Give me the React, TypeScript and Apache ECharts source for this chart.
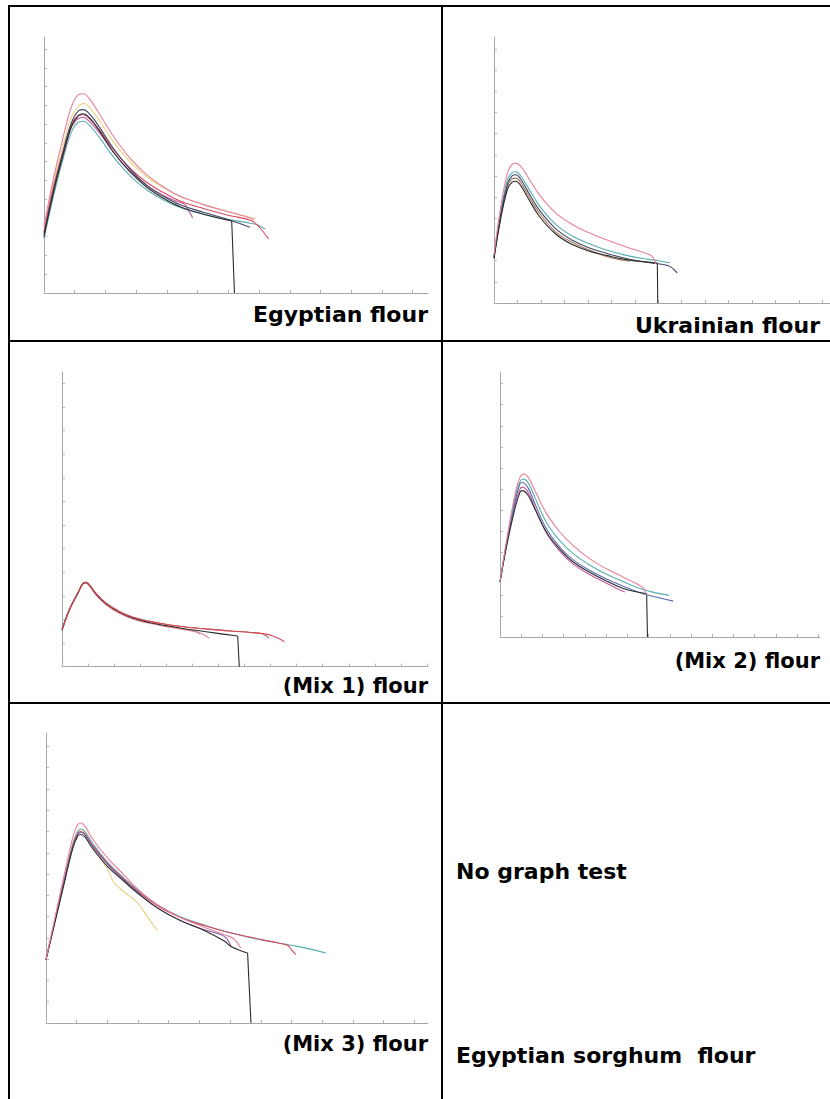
import React, { useEffect, useRef } from "react";
import * as echarts from "echarts";

// ---------- Tick values (in tick units) ----------
const egyptXTicks = [0, 1, 2, 3, 4, 5, 6, 7, 8, 9, 10, 11, 12];
const egyptYTicks = [0, 1, 2, 3, 4, 5, 6, 7, 8, 9, 10, 11, 12, 13];
const ukrXTicks = [0, 1, 2, 3, 4, 5, 6, 7, 8, 9, 10, 11, 12, 13, 14];
const ukrYTicks = [0, 1, 2, 3, 4, 5, 6, 7, 8, 9, 10, 11, 12];
const mix1XTicks = [0, 1, 2, 3, 4, 5, 6, 7, 8, 9, 10, 11, 12, 13, 14];
const mix1YTicks = [0, 1, 2, 3, 4, 5, 6, 7, 8, 9, 10, 11, 12];
const mix2XTicks = [0, 1, 2, 3, 4, 5, 6, 7, 8, 9, 10, 11, 12, 13, 14, 15];
const mix2YTicks = [0, 1, 2, 3, 4, 5, 6, 7, 8, 9, 10, 11, 12];
const mix3XTicks = [0, 1, 2, 3, 4, 5, 6, 7, 8, 9, 10, 11, 12];
const mix3YTicks = [0, 1, 2, 3, 4, 5, 6, 7, 8, 9, 10, 11, 12, 13];

// ---------- Panel labels ----------
const panelTitles = ["Egyptian flour", "Ukrainian flour", "(Mix 1) flour", "(Mix 2) flour", "(Mix 3) flour"];
const emptyCellTexts = ["No graph test", "Egyptian sorghum  flour"];

// ---------- Egyptian flour curves [x, y] ----------
const egyptPink = [[0, 3.55], [0.3, 6.04], [0.63, 8.35], [0.9, 9.95], [1.12, 10.57], [1.28, 10.62], [1.5, 10.3], [1.82, 9.5], [2.26, 8.35], [2.8, 7.19], [3.34, 6.31], [3.89, 5.65], [4.43, 5.15], [5.19, 4.71], [6.06, 4.3], [6.71, 4.0], [6.85, 3.9]];
const egyptYellow = [[0, 3.4], [0.3, 5.8], [0.63, 7.9], [0.9, 9.4], [1.15, 10.0], [1.3, 10.1], [1.5, 9.85], [1.82, 9.15], [2.26, 8.05], [2.8, 7.0], [3.34, 6.2], [3.89, 5.6], [4.43, 5.15], [5.19, 4.72], [6.06, 4.32], [6.6, 4.08], [6.9, 3.98]];
const egyptNavy = [[0, 3.1], [0.3, 5.4], [0.63, 7.6], [0.9, 9.1], [1.12, 9.7], [1.28, 9.77], [1.5, 9.5], [1.82, 8.8], [2.26, 7.7], [2.8, 6.6], [3.34, 5.75], [3.89, 5.15], [4.43, 4.7], [5.19, 4.3], [6.06, 3.88], [6.71, 3.5]];
const egyptRed = [[0, 3.25], [0.3, 5.6], [0.63, 7.6], [0.9, 9.0], [1.12, 9.45], [1.28, 9.5], [1.5, 9.25], [1.82, 8.65], [2.26, 7.65], [2.8, 6.65], [3.34, 5.9], [3.89, 5.35], [4.43, 4.9], [5.19, 4.5], [6.06, 4.12], [6.76, 3.85], [7.04, 3.45], [7.31, 2.88]];
const egyptMagenta = [[0, 3.2], [0.3, 5.5], [0.63, 7.4], [0.9, 8.85], [1.12, 9.3], [1.28, 9.35], [1.5, 9.1], [1.82, 8.5], [2.26, 7.5], [2.8, 6.5], [3.34, 5.75], [3.89, 5.2], [4.3, 4.9], [4.59, 4.71], [4.72, 4.35], [4.84, 4.0]];
const egyptBlack = [[0, 3.0], [0.3, 5.3], [0.63, 7.4], [0.9, 8.9], [1.12, 9.45], [1.28, 9.55], [1.5, 9.3], [1.82, 8.6], [2.26, 7.5], [2.8, 6.45], [3.34, 5.65], [3.89, 5.05], [4.43, 4.6], [5.19, 4.2], [6.11, 3.84], [6.2, 0]];
const egyptTeal = [[0, 2.9], [0.3, 5.1], [0.63, 7.2], [0.9, 8.6], [1.12, 9.1], [1.28, 9.15], [1.5, 8.9], [1.82, 8.25], [2.26, 7.25], [2.8, 6.25], [3.34, 5.5], [3.89, 4.95], [4.43, 4.55], [5.19, 4.2], [6.06, 3.9], [6.71, 3.72], [6.93, 3.64], [7.2, 3.41]];

// ---------- Ukrainian flour curves ----------
const ukrPink = [[0, 2.28], [0.29, 4.57], [0.57, 6.14], [0.76, 6.54], [0.93, 6.61], [1.14, 6.46], [1.43, 5.98], [1.93, 5.12], [2.64, 4.25], [3.36, 3.7], [4.07, 3.31], [4.79, 2.99], [5.64, 2.65], [6.64, 2.28], [6.79, 2.13], [6.9, 1.85]];
const ukrTeal = [[0, 2.2], [0.29, 4.3], [0.57, 5.8], [0.76, 6.15], [0.93, 6.2], [1.14, 6.0], [1.43, 5.5], [1.93, 4.6], [2.64, 3.7], [3.36, 3.15], [4.07, 2.8], [4.79, 2.5], [5.64, 2.25], [6.64, 2.05], [7.0, 2.0], [7.5, 1.9]];
const ukrNavy = [[0, 2.15], [0.29, 4.2], [0.57, 5.6], [0.76, 6.0], [0.93, 6.06], [1.14, 5.85], [1.43, 5.3], [1.93, 4.4], [2.64, 3.5], [3.36, 2.95], [4.07, 2.6], [4.79, 2.35], [5.64, 2.1], [6.64, 1.9], [7.2, 1.82], [7.5, 1.73], [7.81, 1.42]];
const ukrBlack = [[0, 2.1], [0.29, 4.0], [0.57, 5.35], [0.76, 5.7], [0.93, 5.75], [1.14, 5.55], [1.43, 5.0], [1.93, 4.1], [2.64, 3.25], [3.36, 2.75], [4.07, 2.45], [4.79, 2.25], [5.64, 2.05], [6.96, 1.89], [6.98, 0]];
const ukrBrown = [[0, 2.12], [0.29, 4.1], [0.57, 5.5], [0.76, 5.85], [0.93, 5.9], [1.14, 5.7], [1.43, 5.15], [1.93, 4.25], [2.64, 3.35], [3.36, 2.85], [4.07, 2.5], [4.79, 2.2], [5.5, 2.02], [5.79, 1.97]];

// ---------- (Mix 1) flour curves ----------
const mix1Red = [[0, 1.55], [0.28, 2.4], [0.6, 3.1], [0.79, 3.5], [0.9, 3.57], [1.02, 3.5], [1.3, 3.1], [1.69, 2.68], [2.2, 2.33], [2.71, 2.09], [3.35, 1.91], [3.99, 1.79], [4.63, 1.69], [5.27, 1.62], [5.91, 1.56], [6.55, 1.5], [7.19, 1.45], [7.83, 1.38], [8.08, 1.3], [8.3, 1.2], [8.53, 1.06]];
const mix1Brown = [[0, 1.55], [0.28, 2.42], [0.6, 3.12], [0.79, 3.52], [0.9, 3.58], [1.02, 3.52], [1.3, 3.12], [1.69, 2.7], [2.2, 2.35], [2.71, 2.1], [3.35, 1.93], [3.99, 1.8], [4.63, 1.7], [5.27, 1.63], [5.91, 1.57], [6.55, 1.51], [7.19, 1.46], [7.7, 1.39], [7.95, 1.2]];
const mix1Black = [[0, 1.55], [0.28, 2.4], [0.6, 3.1], [0.79, 3.5], [0.9, 3.56], [1.02, 3.49], [1.3, 3.08], [1.69, 2.66], [2.2, 2.3], [2.71, 2.06], [3.35, 1.87], [3.99, 1.74], [4.63, 1.62], [5.27, 1.52], [5.91, 1.42], [6.74, 1.3], [6.8, 0]];
const mix1Pink = [[0, 1.55], [0.28, 2.38], [0.6, 3.08], [0.79, 3.48], [0.9, 3.55], [1.02, 3.47], [1.3, 3.05], [1.69, 2.62], [2.2, 2.26], [2.71, 2.02], [3.35, 1.84], [3.99, 1.7], [4.63, 1.58], [5.27, 1.44], [5.45, 1.35], [5.65, 1.2]];
const mix1Green = [[0, 1.55], [0.28, 2.4], [0.6, 3.1], [0.79, 3.5], [0.9, 3.57], [1.02, 3.5], [1.3, 3.09], [1.69, 2.67], [2.2, 2.3], [2.71, 2.05], [3.35, 1.86], [3.99, 1.72], [4.63, 1.6], [5.1, 1.5], [5.3, 1.38]];

// ---------- (Mix 2) flour curves ----------
const mix2Pink = [[0, 2.6], [0.31, 4.57], [0.71, 6.77], [0.94, 7.56], [1.13, 7.72], [1.33, 7.56], [1.65, 6.93], [2.2, 5.83], [2.83, 4.96], [3.45, 4.33], [4.24, 3.7], [5.02, 3.23], [5.81, 2.83], [6.59, 2.44], [6.78, 2.28], [6.91, 1.97]];
const mix2Teal = [[0, 2.6], [0.31, 4.5], [0.71, 6.6], [0.94, 7.35], [1.1, 7.48], [1.33, 7.3], [1.65, 6.6], [2.2, 5.4], [2.83, 4.55], [3.45, 3.95], [4.24, 3.4], [5.02, 2.97], [5.81, 2.62], [6.59, 2.3], [7.3, 2.1], [7.97, 1.97]];
const mix2Blue = [[0, 2.6], [0.31, 4.4], [0.71, 6.4], [0.94, 7.25], [1.05, 7.32], [1.33, 7.05], [1.65, 6.3], [2.2, 5.1], [2.83, 4.25], [3.45, 3.65], [4.24, 3.15], [5.02, 2.75], [5.81, 2.4], [6.59, 2.1], [7.4, 1.88], [8.16, 1.7]];
const mix2Black = [[0, 2.6], [0.31, 4.3], [0.71, 6.1], [0.94, 6.85], [1.05, 6.93], [1.33, 6.7], [1.65, 6.05], [2.2, 4.95], [2.83, 4.15], [3.45, 3.55], [4.24, 3.05], [5.02, 2.65], [5.81, 2.3], [6.91, 2.05], [6.95, 0]];
const mix2Magenta = [[0, 2.6], [0.31, 4.35], [0.71, 6.3], [0.94, 7.0], [1.05, 7.1], [1.33, 6.85], [1.65, 6.1], [2.2, 4.9], [2.83, 4.05], [3.45, 3.45], [4.24, 2.95], [5.02, 2.55], [5.5, 2.3], [5.89, 2.13]];

// ---------- (Mix 3) flour curves ----------
const mix3Pink = [[0, 2.98], [0.27, 4.8], [0.6, 7.0], [0.87, 8.7], [1.03, 9.32], [1.14, 9.4], [1.27, 9.25], [1.52, 8.65], [2.01, 7.75], [2.55, 6.95], [2.99, 6.3], [3.64, 5.55], [4.4, 4.95], [5.16, 4.5], [5.81, 4.15], [6.13, 3.95], [6.35, 3.52]];
const mix3Teal = [[0, 2.98], [0.27, 4.7], [0.6, 6.8], [0.87, 8.4], [1.03, 9.0], [1.14, 9.12], [1.27, 9.0], [1.52, 8.45], [2.01, 7.55], [2.55, 6.8], [2.99, 6.25], [3.64, 5.55], [4.4, 4.98], [5.16, 4.6], [5.97, 4.25], [7.03, 3.9], [8.2, 3.6], [9.12, 3.29]];
const mix3Red = [[0, 2.98], [0.27, 4.7], [0.6, 6.75], [0.87, 8.3], [1.03, 8.9], [1.14, 9.0], [1.27, 8.88], [1.52, 8.35], [2.01, 7.5], [2.55, 6.75], [2.99, 6.2], [3.64, 5.5], [4.4, 4.95], [5.16, 4.58], [5.97, 4.25], [7.03, 3.92], [7.6, 3.75], [7.87, 3.65], [8.0, 3.45], [8.14, 3.21]];
const mix3Black = [[0, 2.98], [0.27, 4.6], [0.6, 6.6], [0.87, 8.2], [1.03, 8.78], [1.14, 8.86], [1.27, 8.75], [1.52, 8.2], [2.01, 7.35], [2.55, 6.65], [2.99, 6.1], [3.64, 5.4], [4.4, 4.8], [5.16, 4.35], [5.81, 3.85], [6.03, 3.6], [6.57, 3.29], [6.68, 0]];
const mix3Purple = [[0, 2.98], [0.27, 4.65], [0.6, 6.7], [0.87, 8.25], [1.03, 8.85], [1.14, 8.97], [1.27, 8.85], [1.52, 8.3], [2.01, 7.45], [2.55, 6.7], [2.99, 6.15], [3.64, 5.4], [4.4, 4.8], [5.16, 4.38], [5.81, 4.07], [6.03, 3.6]];
const mix3Yellow = [[0, 2.98], [0.27, 4.7], [0.6, 6.8], [0.87, 8.4], [1.03, 9.0], [1.14, 9.1], [1.27, 8.95], [1.52, 8.3], [2.01, 7.2], [2.23, 6.58], [2.6, 6.1], [2.99, 5.64], [3.3, 5.0], [3.64, 4.31]];

// ---------- Styles ----------
const COL = {
  pink: "#e7809b",
  yellow: "#e9d27e",
  navy: "#3f4868",
  red: "#d9485b",
  magenta: "#c45a9e",
  black: "#2c2c2c",
  teal: "#58aeb0",
  brown: "#a8785c",
  green: "#80ae7c",
  blue: "#5a6ab0",
  purple: "#7a5aa2",
};

const gridBoxes = [
  { left: 44, top: 37, width: 384, height: 256, xMax: 12.5, yMax: 13.64, xTicks: egyptXTicks, yTicks: egyptYTicks },
  { left: 494, top: 37, width: 336, height: 266, xMax: 14.32, yMax: 12.57, xTicks: ukrXTicks, yTicks: ukrYTicks },
  { left: 62, top: 372, width: 366, height: 294.7, xMax: 14.04, yMax: 12.48, xTicks: mix1XTicks, yTicks: mix1YTicks },
  { left: 500, top: 372, width: 320, height: 265, xMax: 15.08, yMax: 12.55, xTicks: mix2XTicks, yTicks: mix2YTicks },
  { left: 46, top: 733, width: 382, height: 290, xMax: 12.45, yMax: 13.63, xTicks: mix3XTicks, yTicks: mix3YTicks },
];

const curves: { panel: number; data: number[][]; color: string }[] = [
  { panel: 0, data: egyptYellow, color: COL.yellow },
  { panel: 0, data: egyptTeal, color: COL.teal },
  { panel: 0, data: egyptMagenta, color: COL.magenta },
  { panel: 0, data: egyptRed, color: COL.red },
  { panel: 0, data: egyptNavy, color: COL.navy },
  { panel: 0, data: egyptBlack, color: COL.black },
  { panel: 0, data: egyptPink, color: COL.pink },
  { panel: 1, data: ukrBrown, color: COL.brown },
  { panel: 1, data: ukrTeal, color: COL.teal },
  { panel: 1, data: ukrNavy, color: COL.navy },
  { panel: 1, data: ukrBlack, color: COL.black },
  { panel: 1, data: ukrPink, color: COL.pink },
  { panel: 2, data: mix1Green, color: COL.green },
  { panel: 2, data: mix1Pink, color: COL.pink },
  { panel: 2, data: mix1Brown, color: COL.brown },
  { panel: 2, data: mix1Black, color: COL.black },
  { panel: 2, data: mix1Red, color: COL.red },
  { panel: 3, data: mix2Magenta, color: COL.magenta },
  { panel: 3, data: mix2Teal, color: COL.teal },
  { panel: 3, data: mix2Blue, color: COL.blue },
  { panel: 3, data: mix2Black, color: COL.black },
  { panel: 3, data: mix2Pink, color: COL.pink },
  { panel: 4, data: mix3Yellow, color: COL.yellow },
  { panel: 4, data: mix3Teal, color: COL.teal },
  { panel: 4, data: mix3Red, color: COL.red },
  { panel: 4, data: mix3Purple, color: COL.purple },
  { panel: 4, data: mix3Black, color: COL.black },
  { panel: 4, data: mix3Pink, color: COL.pink },
];

const LABEL_FONT = 'bold 22px "DejaVu Sans"';
const MIX_FONT = 'bold 21px "DejaVu Sans"';

function buildOption() {
  const axisStyle = (max: number, ticks: number[], gridIndex: number) => ({
    type: "value",
    gridIndex,
    min: 0,
    max,
    axisLine: { show: true, onZero: false, lineStyle: { color: "#a6a6a6", width: 1 } },
    axisTick: { show: true, inside: true, length: 3, customValues: ticks, lineStyle: { color: "#b4b4b4", width: 1 } },
    axisLabel: { show: false },
    splitLine: { show: false },
  });

  const grid = gridBoxes.map((g) => ({ left: g.left, top: g.top, width: g.width, height: g.height, containLabel: false }));
  const xAxis = gridBoxes.map((g, i) => axisStyle(g.xMax, g.xTicks, i));
  const yAxis = gridBoxes.map((g, i) => axisStyle(g.yMax, g.yTicks, i));

  const series: any[] = [];
  curves.forEach((c) => {
    const last = c.data[c.data.length - 1];
    const hasDrop = last[1] === 0;
    const body = hasDrop ? c.data.slice(0, c.data.length - 1) : c.data;
    series.push({
      type: "line",
      xAxisIndex: c.panel,
      yAxisIndex: c.panel,
      data: body,
      smooth: 0.4,
      symbol: "none",
      lineStyle: { color: c.color, width: 1.1 },
      silent: true,
    });
    if (hasDrop) {
      series.push({
        type: "line",
        xAxisIndex: c.panel,
        yAxisIndex: c.panel,
        data: c.data.slice(c.data.length - 2),
        smooth: false,
        symbol: "none",
        lineStyle: { color: c.color, width: 1.1 },
        silent: true,
      });
    }
  });

  const line = (x1: number, y1: number, x2: number, y2: number) => ({
    type: "line",
    shape: { x1, y1, x2, y2 },
    style: { stroke: "#000", lineWidth: 2 },
    silent: true,
  });

  const text = (t: string, x: number, y: number, align: string, font: string) => ({
    type: "text",
    x,
    y,
    silent: true,
    style: { text: t, font, fill: "#000", align, textAlign: align, verticalAlign: "middle", textVerticalAlign: "middle" },
  });

  const graphic = [
    line(8, 6, 830, 6),
    line(9, 5, 9, 1099),
    line(442, 5, 442, 1099),
    line(8, 341, 830, 341),
    line(8, 703, 830, 703),
    text(panelTitles[0], 428, 314, "right", LABEL_FONT),
    text(panelTitles[1], 820, 325.5, "right", LABEL_FONT),
    text(panelTitles[2], 428, 685.5, "right", MIX_FONT),
    text(panelTitles[3], 820, 660.5, "right", MIX_FONT),
    text(panelTitles[4], 428, 1044, "right", MIX_FONT),
    text(emptyCellTexts[0], 456, 871.7, "left", LABEL_FONT),
    text(emptyCellTexts[1], 456, 1055.7, "left", LABEL_FONT),
  ];

  return { animation: false, backgroundColor: "#fff", grid, xAxis, yAxis, series, graphic };
}

export default function App() {
  const ref = useRef<HTMLDivElement>(null);
  useEffect(() => {
    if (!ref.current) return;
    const chart = echarts.init(ref.current, null, { renderer: "svg", width: 830, height: 1099 });
    chart.setOption(buildOption() as any);
    return () => chart.dispose();
  }, []);
  return (
    <div
      ref={ref}
      style={{ position: "fixed", left: 0, top: 0, width: 830, height: 1099, background: "#fff" }}
    />
  );
}
